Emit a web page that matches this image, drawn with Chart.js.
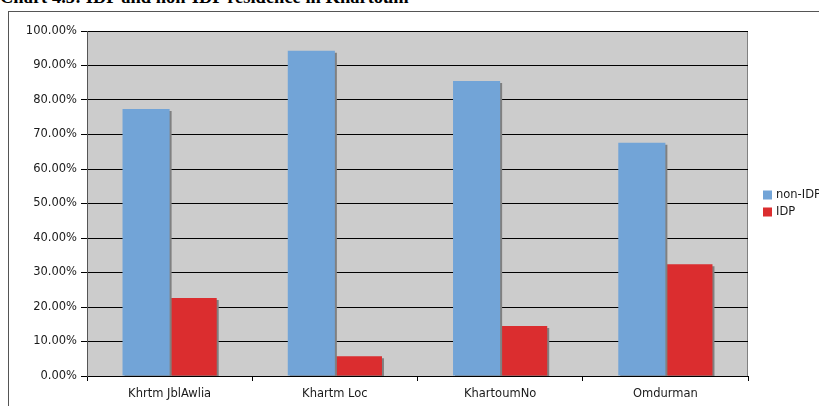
<!DOCTYPE html>
<html>
<head>
<meta charset="utf-8">
<script src="https://cdn.jsdelivr.net/npm/chart.js@4.4.1/dist/chart.umd.min.js"></script>
<style>
  html, body { margin: 0; padding: 0; background: #fff; overflow: hidden; }
  #wrap { position: relative; width: 819px; height: 406px; overflow: hidden; }
  #title { position: absolute; left: 0px; top: -13px; font: bold 18.5px "Liberation Serif", "Times New Roman", serif; color: #000; white-space: nowrap; }
  #frame { position: absolute; left: 8px; top: 11px; width: 900px; height: 500px; border: 1px solid #555; box-sizing: border-box; }
  canvas { position: absolute; left: 0; top: 0; }
</style>
</head>
<body>
<div id="wrap">
  <div id="title">Chart 4.5: IDP and non-IDP residence in Khartoum</div>
  <div id="frame"></div>
  <canvas id="c" width="819" height="406"></canvas>
</div>
<script>
const categories = ["Khrtm JblAwlia", "Khartm Loc", "KhartoumNo", "Omdurman"];
const nonIdpValues = [77.4, 94.3, 85.5, 67.6];
const idpValues = [22.6, 5.7, 14.5, 32.4];
const seriesNames = ["non-IDP", "IDP"];
const seriesColors = ["#72A4D7", "#DB2D2F"];
const yTicks = [0, 10, 20, 30, 40, 50, 60, 70, 80, 90, 100];

const FONT = { family: "'DejaVu Sans', Verdana, sans-serif", size: 11.5 };
const TEXT_COLOR = '#1a1a1a';

const plotBg = {
  id: 'plotBg',
  beforeDraw(chart) {
    const { ctx, chartArea: a } = chart;
    ctx.save();
    ctx.fillStyle = '#CCCCCC';
    ctx.fillRect(a.left, a.top, a.right - a.left, a.bottom - a.top);
    ctx.strokeStyle = '#808080';
    ctx.lineWidth = 1;
    ctx.strokeRect(a.left + 0.5, a.top + 0.5, a.right - a.left - 1, a.bottom - a.top);
    ctx.restore();
  }
};

const barShadow = {
  id: 'barShadow',
  beforeDatasetDraw(chart) {
    const ctx = chart.ctx;
    ctx.save();
    ctx.shadowColor = '#808080';
    ctx.shadowOffsetX = 2;
    ctx.shadowOffsetY = 2;
    ctx.shadowBlur = 0;
  },
  afterDatasetDraw(chart) {
    chart.ctx.restore();
  }
};

const sideLegend = {
  id: 'sideLegend',
  afterDraw(chart) {
    const ctx = chart.ctx;
    ctx.save();
    ctx.font = FONT.size + 'px ' + FONT.family;
    ctx.textBaseline = 'middle';
    ctx.textAlign = 'left';
    chart.data.datasets.forEach((ds, i) => {
      const y = 195 + i * 17;
      ctx.fillStyle = ds.backgroundColor;
      ctx.fillRect(763, y - 4.5, 9, 9);
      ctx.fillStyle = TEXT_COLOR;
      ctx.fillText(ds.label, 776, y);
    });
    ctx.restore();
  }
};

new Chart(document.getElementById('c'), {
  type: 'bar',
  data: {
    labels: categories,
    datasets: [
      { label: seriesNames[0], data: nonIdpValues, backgroundColor: seriesColors[0] },
      { label: seriesNames[1], data: idpValues, backgroundColor: seriesColors[1] }
    ]
  },
  options: {
    responsive: false,
    animation: false,
    events: [],
    layout: { padding: { left: 0, top: 31, right: 71, bottom: 0 } },
    datasets: { bar: { categoryPercentage: 0.57, barPercentage: 1.0, borderWidth: 0 } },
    plugins: { legend: { display: false }, tooltip: { enabled: false }, title: { display: false } },
    scales: {
      x: {
        grid: { offset: true, drawOnChartArea: false, drawTicks: true, tickLength: 5, color: '#000' },
        border: { color: '#000', width: 1 },
        ticks: { color: TEXT_COLOR, font: FONT, padding: 6, maxRotation: 0 },
        afterFit(s) { s.height = 30; }
      },
      y: {
        min: 0, max: 100,
        afterBuildTicks(s) { s.ticks = yTicks.map(v => ({ value: v })); },
        grid: { color: '#000', lineWidth: 1, tickLength: 6 },
        border: { color: '#555', width: 1 },
        ticks: { color: TEXT_COLOR, font: FONT, padding: 4, callback: v => v.toFixed(2) + '%' },
        afterFit(s) { s.width = 87; }
      }
    }
  },
  plugins: [plotBg, barShadow, sideLegend]
});
</script>
</body>
</html>
